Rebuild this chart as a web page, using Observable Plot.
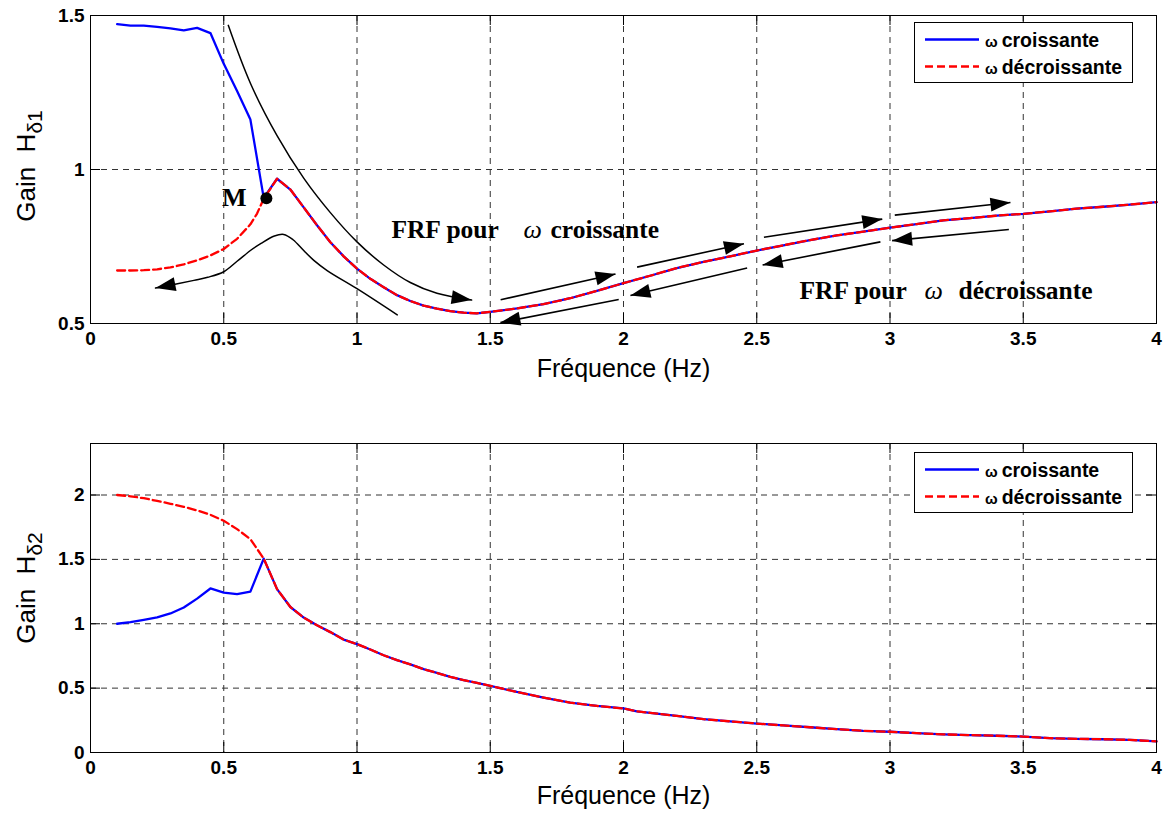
<!DOCTYPE html>
<html>
<head>
<meta charset="utf-8">
<script src="https://cdn.jsdelivr.net/npm/d3@7"></script>
<script src="https://cdn.jsdelivr.net/npm/@observablehq/plot@0.6"></script>
<style>
  html, body { margin: 0; padding: 0; background: #fff; }
  #wrap { position: relative; width: 1167px; height: 814px; overflow: hidden; background: #fff; }
  #wrap > svg { display: block; }
  .legend { position: absolute; }
</style>
</head>
<body>
<div id="wrap"></div>
<script>
// ---------------- data ----------------
const xTicks = [0, 0.5, 1, 1.5, 2, 2.5, 3, 3.5, 4];
const xGridTicks = [0.5, 1, 1.5, 2, 2.5, 3, 3.5];
const y1Ticks = [0.5, 1, 1.5];
const y1GridTicks = [1];
const y2Ticks = [0, 0.5, 1, 1.5, 2];
const y2GridTicks = [0.5, 1, 1.5, 2];
const seriesNames = ["croissante", "décroissante"];
const xLabel = "Fréquence (Hz)";

// Panel 1 (H δ1) – low-frequency branches
const f1Croissante = [0.10, 0.15, 0.20, 0.25, 0.30, 0.35, 0.40, 0.45, 0.50, 0.55, 0.60, 0.65];
const g1Croissante = [1.472, 1.467, 1.467, 1.463, 1.458, 1.452, 1.460, 1.443, 1.343, 1.255, 1.162, 0.908];
const f1Decroissante = [0.10, 0.15, 0.20, 0.25, 0.30, 0.35, 0.40, 0.45, 0.50, 0.55, 0.60, 0.625, 0.65];
const g1Decroissante = [0.672, 0.672, 0.673, 0.676, 0.682, 0.692, 0.705, 0.721, 0.742, 0.775, 0.822, 0.857, 0.905];
// Panel 1 – common branch
const f1Common = [0.70, 0.75, 0.80, 0.85, 0.90, 0.95, 1.00, 1.05, 1.10, 1.15, 1.20, 1.25, 1.30, 1.35, 1.40, 1.45, 1.50, 1.60, 1.70, 1.80, 1.90, 2.00, 2.10, 2.20, 2.30, 2.40, 2.50, 2.60, 2.70, 2.80, 2.90, 3.00, 3.10, 3.20, 3.30, 3.40, 3.50, 3.60, 3.70, 3.80, 3.90, 4.00];
const g1Common = [0.970, 0.935, 0.877, 0.819, 0.764, 0.718, 0.678, 0.645, 0.618, 0.592, 0.573, 0.558, 0.548, 0.540, 0.535, 0.533, 0.538, 0.549, 0.563, 0.582, 0.606, 0.631, 0.655, 0.680, 0.700, 0.718, 0.737, 0.754, 0.771, 0.786, 0.798, 0.811, 0.823, 0.835, 0.842, 0.850, 0.856, 0.864, 0.873, 0.879, 0.886, 0.894];

// Panel 2 (H δ2)
const f2Croissante = [0.10, 0.15, 0.20, 0.25, 0.30, 0.35, 0.40, 0.45, 0.50, 0.55, 0.60, 0.65];
const g2Croissante = [1.000, 1.012, 1.030, 1.049, 1.080, 1.126, 1.195, 1.274, 1.242, 1.230, 1.250, 1.506];
const f2Decroissante = [0.10, 0.15, 0.20, 0.25, 0.30, 0.35, 0.40, 0.45, 0.50, 0.55, 0.60, 0.65];
const g2Decroissante = [2.000, 1.990, 1.975, 1.954, 1.932, 1.908, 1.880, 1.846, 1.800, 1.735, 1.657, 1.506];
const f2Common = [0.70, 0.75, 0.80, 0.85, 0.90, 0.95, 1.00, 1.05, 1.10, 1.15, 1.20, 1.25, 1.30, 1.35, 1.40, 1.45, 1.50, 1.60, 1.70, 1.80, 1.90, 2.00, 2.05, 2.10, 2.20, 2.30, 2.40, 2.50, 2.60, 2.70, 2.80, 2.90, 3.00, 3.10, 3.20, 3.30, 3.40, 3.50, 3.60, 3.70, 3.80, 3.90, 4.00];
const g2Common = [1.269, 1.130, 1.048, 0.988, 0.935, 0.877, 0.842, 0.800, 0.755, 0.717, 0.685, 0.647, 0.618, 0.588, 0.563, 0.540, 0.518, 0.470, 0.427, 0.388, 0.362, 0.342, 0.320, 0.308, 0.284, 0.259, 0.242, 0.225, 0.210, 0.196, 0.181, 0.168, 0.161, 0.150, 0.141, 0.135, 0.130, 0.124, 0.111, 0.106, 0.103, 0.098, 0.086];

// Annotations of panel 1 (frequency, gain) – guide curves end at their arrow tip
const guideUpperF = [0.517, 0.60, 0.70, 0.80, 0.90, 1.00, 1.10, 1.20, 1.30, 1.43];
const guideUpperG = [1.468, 1.280, 1.110, 0.972, 0.860, 0.765, 0.690, 0.633, 0.598, 0.576];
const guideLowerF = [1.151, 1.0, 0.888, 0.838, 0.80, 0.76, 0.725, 0.69, 0.64, 0.60, 0.55, 0.50, 0.44, 0.388, 0.244];
const guideLowerG = [0.528, 0.613, 0.672, 0.705, 0.737, 0.772, 0.789, 0.784, 0.760, 0.737, 0.702, 0.668, 0.650, 0.640, 0.615];
// straight arrows: [f1, g1, f2, g2]
const arrowList = [
  [1.539, 0.577, 1.970, 0.661],
  [2.051, 0.683, 2.452, 0.759],
  [2.527, 0.780, 2.971, 0.839],
  [3.018, 0.852, 3.452, 0.893],
  [3.446, 0.805, 3.008, 0.769],
  [2.964, 0.765, 2.522, 0.690],
  [2.464, 0.680, 2.026, 0.591],
  [1.982, 0.578, 1.538, 0.503]
];
const pointM = {f: 0.66, g: 0.907, label: "M", labelF: 0.539};
const annotText = [
  {f: 1.129, g: 0.776, text: "FRF pour", kind: "b"},
  {f: 1.625, g: 0.776, text: "ω", kind: "i"},
  {f: 1.726, g: 0.776, text: "croissante", kind: "b"},
  {f: 2.660, g: 0.580, text: "FRF pour", kind: "b"},
  {f: 3.129, g: 0.580, text: "ω", kind: "i"},
  {f: 3.257, g: 0.580, text: "décroissante", kind: "b"}
];

// ---------------- helpers ----------------
const zip = (F, G) => F.map((f, i) => ({f, g: G[i]}));
const sans = "'Liberation Sans', Arial, Helvetica, sans-serif";
const serif = "'Liberation Serif', 'Times New Roman', serif";
const fmt = d => String(d);
const W = 1167, ML = 90, MR = 11;
const innerW = W - ML - MR;

function panel({height, marginTop, marginBottom, yDomain, yTicks, yGrid, rise, fall, extra = [], labelDy}) {
  const innerH = height - marginTop - marginBottom;
  const tick = 10;
  return Plot.plot({
    width: W, height, marginLeft: ML, marginRight: MR, marginTop, marginBottom,
    x: {domain: [0, 4]},
    y: {domain: yDomain},
    style: {fontFamily: sans, fontSize: "19px", fontWeight: "bold", color: "black", background: "white"},
    marks: [
      Plot.gridX({ticks: xGridTicks, stroke: "#333", strokeOpacity: 1, strokeDasharray: "6,5"}),
      Plot.gridY({ticks: yGrid, stroke: "#333", strokeOpacity: 1, strokeDasharray: "6,5"}),
      Plot.line(rise, {x: "f", y: "g", stroke: "#0000ff", strokeWidth: 2.3}),
      Plot.line(fall, {x: "f", y: "g", stroke: "#ff0000", strokeWidth: 2.3, strokeDasharray: "8,4"}),
      ...extra,
      Plot.ruleX(xTicks, {insetTop: innerH - tick, stroke: "black"}),
      Plot.ruleX(xTicks, {insetBottom: innerH - tick, stroke: "black"}),
      Plot.ruleY(yTicks, {insetRight: innerW - tick, stroke: "black"}),
      Plot.ruleY(yTicks, {insetLeft: innerW - tick, stroke: "black"}),
      Plot.frame({stroke: "black", strokeWidth: 1}),
      Plot.axisX({ticks: xTicks, tickSize: 0, tickPadding: 8, tickFormat: fmt, label: null}),
      Plot.axisY({ticks: yTicks, tickSize: 0, tickPadding: 6, tickFormat: fmt, label: null}),
      Plot.text([xLabel], {frameAnchor: "bottom", dy: labelDy, lineAnchor: "bottom", fontSize: 25, fontWeight: "normal", fontFamily: sans})
    ]
  });
}

function addYLabel(svg, sub, cy) {
  const t = d3.select(svg).append("text")
    .attr("transform", `translate(35,${cy}) rotate(-90)`)
    .attr("text-anchor", "middle")
    .attr("font-family", sans).attr("font-size", 26).attr("font-weight", "normal")
    .attr("fill", "black")
    .style("white-space", "pre");
  t.append("tspan").text("Gain  H");
  t.append("tspan").attr("dy", 7).attr("font-size", 21).text(sub);
}

// turn Plot's arrow markers into filled triangular heads
function fillArrowHeads(svg) {
  d3.select(svg).selectAll("marker").each(function () {
    const m = d3.select(this);
    m.attr("viewBox", "-21 -8 22 16").attr("markerWidth", 22).attr("markerHeight", 16)
      .attr("markerUnits", "userSpaceOnUse").attr("refX", 0).attr("refY", 0)
      .attr("fill", "black").attr("stroke", "none");
    m.selectAll("*").remove();
    m.append("path").attr("d", "M-20,-7L0,0L-20,7Z").attr("fill", "black").attr("stroke", "none");
  });
}

// ---------------- panel 1 ----------------
const ann = [
  Plot.line(zip(guideUpperF, guideUpperG), {x: "f", y: "g", stroke: "black", strokeWidth: 1.5, curve: "catmull-rom", markerEnd: "arrow"}),
  Plot.line(zip(guideLowerF, guideLowerG), {x: "f", y: "g", stroke: "black", strokeWidth: 1.5, curve: "catmull-rom", markerEnd: "arrow"}),
  Plot.link(arrowList, {x1: d => d[0], y1: d => d[1], x2: d => d[2], y2: d => d[3], stroke: "black", strokeWidth: 1.6, markerEnd: "arrow"}),
  Plot.dot([pointM], {x: "f", y: "g", r: 6, fill: "black", stroke: "none"}),
  Plot.text([pointM], {x: "labelF", y: "g", text: "label", fontFamily: serif, fontSize: 26, fontWeight: "bold", textAnchor: "middle", lineAnchor: "middle"}),
  Plot.text(annotText.filter(d => d.kind === "b"), {x: "f", y: "g", text: "text", fontFamily: serif, fontSize: 25.5, fontWeight: "bold", textAnchor: "start", lineAnchor: "bottom"}),
  Plot.text(annotText.filter(d => d.kind === "i"), {x: "f", y: "g", text: "text", fontFamily: serif, fontSize: 26, fontWeight: "normal", fontStyle: "italic", textAnchor: "start", lineAnchor: "bottom"})
];

const p1 = panel({
  height: 400, marginTop: 15, marginBottom: 77,
  yDomain: [0.5, 1.5], yTicks: y1Ticks, yGrid: y1GridTicks,
  rise: zip(f1Croissante.concat(f1Common), g1Croissante.concat(g1Common)),
  fall: zip(f1Decroissante.concat(f1Common), g1Decroissante.concat(g1Common)),
  extra: ann, labelDy: 53
});
fillArrowHeads(p1);
addYLabel(p1, "δ1", 166);

// ---------------- panel 2 ----------------
const p2 = panel({
  height: 414, marginTop: 43, marginBottom: 62,
  yDomain: [0, 2.4], yTicks: y2Ticks, yGrid: y2GridTicks,
  rise: zip(f2Croissante.concat(f2Common), g2Croissante.concat(g2Common)),
  fall: zip(f2Decroissante.concat(f2Common), g2Decroissante.concat(g2Common)),
  labelDy: 51
});
addYLabel(p2, "δ2", 188);

const wrap = document.getElementById("wrap");
wrap.appendChild(p1);
wrap.appendChild(p2);

// ---------------- legends ----------------
function legend(left, top) {
  const s = d3.create("svg").attr("class", "legend").attr("width", 220).attr("height", 62)
    .style("left", left + "px").style("top", top + "px");
  s.append("rect").attr("x", 0.5).attr("y", 0.5).attr("width", 218).attr("height", 60)
    .attr("fill", "white").attr("stroke", "black").attr("stroke-width", 1);
  const rows = [
    {name: seriesNames[0], color: "#0000ff", dash: null, y: 17.5},
    {name: seriesNames[1], color: "#ff0000", dash: "8,4", y: 44.5}
  ];
  for (const r of rows) {
    s.append("line").attr("x1", 11).attr("x2", 65).attr("y1", r.y).attr("y2", r.y)
      .attr("stroke", r.color).attr("stroke-width", 2.3).attr("stroke-dasharray", r.dash);
    const t = s.append("text").attr("x", 71).attr("y", r.y + 7)
      .attr("font-family", sans).attr("font-weight", "bold").attr("fill", "black");
    t.append("tspan").attr("font-size", 15).text("ω");
    t.append("tspan").attr("font-size", 19.5).attr("dx", 4).text(r.name);
  }
  wrap.appendChild(s.node());
}
legend(914, 22);
legend(914, 452);
</script>
</body>
</html>
